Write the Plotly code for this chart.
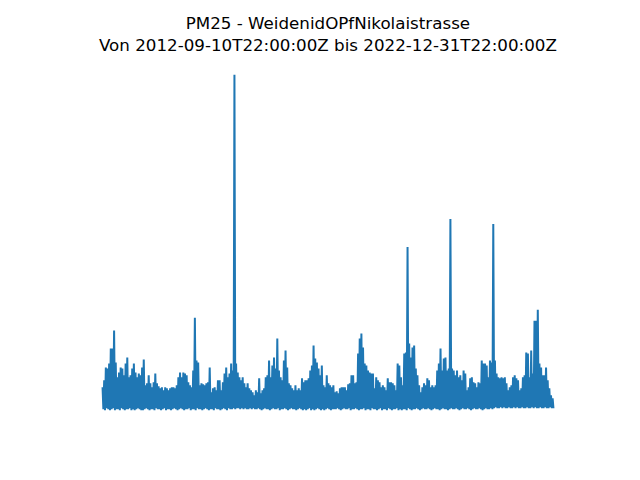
import pandas as pd
import plotly.graph_objects as go

title_line1 = "PM25 - WeidenidOPfNikolaistrasse"
start_label = "2012-09-10T22:00:00Z"
end_label = "2022-12-31T22:00:00Z"

# upper envelope of the hourly PM2.5 band (µg/m³), read left to right
peaks = [
    23, 30, 43, 42, 47, 62, 62, 80, 48, 33, 38, 43, 42, 35, 47, 53, 33, 35, 42, 47,
    38, 33, 37, 35, 43, 51, 25, 27, 35, 27, 23, 28, 37, 27, 24, 22, 23, 20, 23, 22,
    20, 22, 23, 23, 22,
    25, 33, 38, 33, 38, 37, 35, 28, 25, 23, 40, 93, 50, 48, 25, 27, 26, 25, 27, 28,
    43, 18, 22, 23, 20, 30, 30, 20, 28, 37, 43, 33, 37, 47, 40, 337, 47, 38, 33, 30,
    33, 27, 23, 27, 22, 20, 18, 15,
    20, 18, 32, 17, 20, 22, 33, 35, 50, 33, 45, 53, 42, 72, 40, 33, 30, 50, 60, 43,
    27, 25, 22, 20, 25, 20, 22, 20, 32, 28, 30, 30, 32, 40, 45, 65, 52, 48, 42, 35,
    45, 25, 23, 35, 27, 25, 23, 25,
    18, 19, 17, 22, 23, 23, 23, 20, 26, 27, 35, 35, 27, 28, 57, 72, 77, 63, 47, 45,
    40, 38, 37, 37, 22, 33, 30, 28, 23, 25, 23, 20, 32, 28, 28, 27, 25, 20, 47, 45,
    33, 25, 57, 58, 164, 67, 53, 63,
    65, 42, 35, 25, 18, 23, 27, 25, 32, 30, 23, 25, 23, 25, 40, 47, 62, 40, 52, 53,
    40, 42, 192, 42, 40, 35, 40, 33, 35, 30, 40, 37, 20, 23, 32, 33, 28, 27, 23, 28,
    27, 50, 47, 47, 45, 33, 50, 48,
    187, 50, 37, 33, 32, 33, 32, 33, 27, 20, 23, 25, 33, 35, 32, 30, 20, 22, 33, 35,
    58, 57, 33, 60, 37, 90, 90, 101, 47, 43, 35, 35, 43, 30, 22, 15, 12,
]

# lower edge of the band (µg/m³), one value per peak
troughs = [
    1, 0, 2, 1, 0, 1, 2, 0, 1, 1, 0, 2, 1, 0, 1, 1, 2, 0, 1, 0,
    1, 2, 1, 0, 0, 1, 2, 1, 0, 1, 1, 0, 2, 1, 1, 0, 1, 2, 0, 1,
    1, 0, 1, 2, 1,
    0, 1, 2, 1, 0, 1, 1, 2, 0, 1, 1, 0, 2, 1, 1, 0, 1, 2, 1, 0,
    1, 1, 0, 2, 1, 1, 0, 1, 2, 1, 0, 2, 1, 1, 2, 1, 2, 2, 1, 2,
    1, 2, 1, 1, 2, 1, 2, 1,
    1, 2, 1, 0, 1, 2, 1, 1, 0, 1, 2, 1, 1, 2, 0, 1, 1, 2, 1, 0,
    1, 2, 1, 1, 0, 1, 2, 1, 0, 1, 0, 1, 2, 0, 1, 0, 1, 2, 1, 0,
    1, 0, 1, 2, 1, 0, 1, 1,
    1, 2, 1, 0, 1, 2, 1, 1, 2, 0, 1, 1, 2, 1, 0, 1, 1, 2, 0, 1,
    1, 0, 2, 1, 1, 0, 1, 2, 0, 1, 1, 0, 2, 1, 0, 1, 1, 2, 0, 1,
    0, 1, 1, 0, 2, 1, 0, 1,
    1, 2, 1, 0, 1, 2, 1, 1, 2, 1, 0, 1, 2, 1, 1, 0, 1, 2, 1, 1,
    0, 1, 2, 1, 1, 2, 1, 0, 1, 2, 1, 1, 2, 1, 0, 1, 2, 1, 1, 2,
    1, 0, 1, 2, 1, 1, 2, 1,
    2, 3, 2, 2, 3, 2, 3, 2, 2, 3, 2, 2, 3, 2, 3, 2, 2, 3, 2, 2,
    3, 2, 2, 3, 2, 3, 2, 2, 3, 2, 2, 3, 2, 2, 3, 2, 2,
]

values = []
for hi, lo in zip(peaks, troughs):
    values.append(hi)
    values.append(lo)

t0 = pd.Timestamp("2012-09-10 22:00:00")
t1 = pd.Timestamp("2022-12-31 22:00:00")
times = pd.date_range(t0, t1, periods=len(values))

# matplotlib-like 5% autoscale margins
xspan = t1 - t0
xr = [t0 - xspan * 0.05, t1 + xspan * 0.05]
ymin, ymax = min(values), max(values)
yspan = ymax - ymin
yr = [ymin - 0.05 * yspan, ymax + 0.05 * yspan]

fig = go.Figure()
fig.add_trace(go.Scatter(
    x=times, y=values, mode="lines",
    line=dict(color="#1f77b4", width=2),
    hoverinfo="skip", showlegend=False,
))

W, H = 640, 480
ml, mr, mt, mb = 80, 64, 57.6, 52.8
ph = H - mt - mb

fig.update_layout(
    width=W, height=H,
    margin=dict(l=ml, r=mr, t=mt, b=mb, pad=0),
    paper_bgcolor="white", plot_bgcolor="white",
    xaxis=dict(visible=False, range=[str(xr[0]), str(xr[1])]),
    yaxis=dict(visible=False, range=yr),
    showlegend=False,
)

title_font = dict(family="DejaVu Sans", size=16.7, color="black")
fig.add_annotation(
    x=0.5, y=(H - mb - 33.5) / ph, xref="paper", yref="paper",
    xanchor="center", yanchor="middle", borderpad=0, align="center",
    text=f"{title_line1}<br>Von {start_label} bis {end_label}",
    showarrow=False, font=title_font,
)

fig.write_html(
    "out.html",
    config={"displayModeBar": False},
    post_script="document.body.style.margin='0';",
)
